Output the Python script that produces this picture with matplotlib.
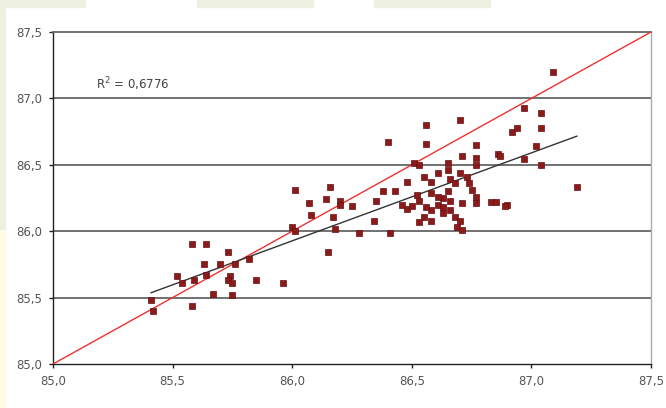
import numpy as np
import matplotlib
matplotlib.use("Agg")
import matplotlib.pyplot as plt
from matplotlib.patches import Rectangle

x_vals = [
    85.41, 85.42, 85.52, 85.54, 85.58, 85.58, 85.64, 85.59, 85.63, 85.64,
    85.67, 85.70, 85.73, 85.74, 85.73, 85.75, 85.75, 85.76, 85.82, 85.85,
    85.96, 86.00, 86.01, 86.01, 86.07, 86.08, 86.14, 86.16, 86.17, 86.18,
    86.20, 86.20, 86.25, 86.15, 86.28, 86.34, 86.35, 86.38, 86.40, 86.41,
    86.43, 86.46, 86.48, 86.50, 86.48, 86.51, 86.53, 86.52, 86.56, 86.56,
    86.70, 86.77, 86.71, 86.77, 86.77, 86.86, 86.92, 86.65, 86.55, 86.58,
    86.61, 86.65, 86.66, 86.68, 86.70, 86.73, 86.74, 86.75, 86.77, 86.77,
    86.71, 86.83, 86.85, 86.90, 86.65, 86.63, 86.61, 86.58, 86.56, 86.55,
    86.53, 86.58, 86.63, 86.66, 86.68, 86.70, 86.69, 86.71, 86.63, 86.61,
    86.66, 86.58, 86.53, 87.09, 86.97, 87.04, 86.94, 87.04, 87.02, 86.97,
    87.04, 87.19, 86.89, 86.87,
]
y_vals = [
    85.48, 85.40, 85.66, 85.61, 85.44, 85.90, 85.90, 85.63, 85.75, 85.67,
    85.53, 85.75, 85.84, 85.66, 85.63, 85.61, 85.52, 85.75, 85.79, 85.63,
    85.61, 86.03, 86.00, 86.31, 86.21, 86.12, 86.24, 86.33, 86.11, 86.02,
    86.23, 86.20, 86.19, 85.84, 85.99, 86.08, 86.23, 86.30, 86.67, 85.99,
    86.30, 86.20, 86.17, 86.19, 86.37, 86.51, 86.50, 86.27, 86.66, 86.80,
    86.84, 86.65, 86.57, 86.55, 86.50, 86.58, 86.75, 86.51, 86.41, 86.37,
    86.44, 86.46, 86.39, 86.36, 86.44, 86.41, 86.36, 86.31, 86.26, 86.21,
    86.21, 86.22, 86.22, 86.20, 86.30, 86.25, 86.20, 86.16, 86.18, 86.11,
    86.07, 86.08, 86.14, 86.16, 86.11, 86.08, 86.03, 86.01, 86.18, 86.26,
    86.23, 86.29, 86.23, 87.20, 86.93, 86.89, 86.78, 86.78, 86.64, 86.54,
    86.50, 86.33, 86.19, 86.57,
]

axis_ticks = [85.0, 85.5, 86.0, 86.5, 87.0, 87.5]
tick_labels = ["85,0", "85,5", "86,0", "86,5", "87,0", "87,5"]
r2_label = "R$^2$ = 0,6776"

fig = plt.figure(figsize=(6.66, 4.08), dpi=100, facecolor="white")

# pale page background bits around the chart
W, H = 666, 408
for x0, x1, y0, y1, c in [
    (0, 85, 0, 7, "#eef0e2"),
    (197, 313, 0, 7, "#eef0e2"),
    (374, 490, 0, 7, "#eef0e2"),
    (0, 5, 0, 230, "#eef0e2"),
    (0, 5, 230, 408, "#fffce6"),
]:
    fig.patches.append(Rectangle((x0 / W, 1 - y1 / H), (x1 - x0) / W, (y1 - y0) / H,
                                 transform=fig.transFigure, color=c, zorder=0))

ax = fig.add_axes([53 / W, 1 - 364 / H, (651 - 53) / W, (364 - 32) / H])
ax.set_facecolor("white")

x = np.array(x_vals)
y = np.array(y_vals)

# 1:1 line
ax.plot([85.0, 87.5], [85.0, 87.5], color="#f03030", lw=1.0, zorder=3)

# linear trendline over the data range
k, b = np.polyfit(x, y, 1)
xs = np.array([x.min(), x.max()])
ax.plot(xs, k * xs + b, color="#333333", lw=1.0, zorder=3)

ax.scatter(x, y, marker="s", s=24, color="#8b1a1a", edgecolors="#6a1010",
           linewidths=0.5, zorder=4)

ax.set_xlim(85.0, 87.5)
ax.set_ylim(85.0, 87.5)
ax.set_xticks(axis_ticks)
ax.set_xticklabels(tick_labels)
ax.set_yticks(axis_ticks)
ax.set_yticklabels(tick_labels)

for v in axis_ticks[1:-1]:
    ax.axhline(v, color="#666666", lw=1.3, zorder=1)

for side in ["left", "bottom"]:
    ax.spines[side].set_color("#222222")
    ax.spines[side].set_linewidth(1.0)
ax.spines["top"].set_color("#666666")
ax.spines["top"].set_linewidth(1.3)
ax.spines["right"].set_color("#aaaaaa")
ax.spines["right"].set_linewidth(1.0)

ax.tick_params(direction="out", length=3, width=1, color="#222222",
               labelsize=8.5, labelcolor="#555555", pad=5)

ax.text(85.18, 87.11, r2_label, fontsize=8.5, color="#444444",
        va="center", ha="left")

fig.savefig("out.png", dpi=100, facecolor=fig.get_facecolor())
